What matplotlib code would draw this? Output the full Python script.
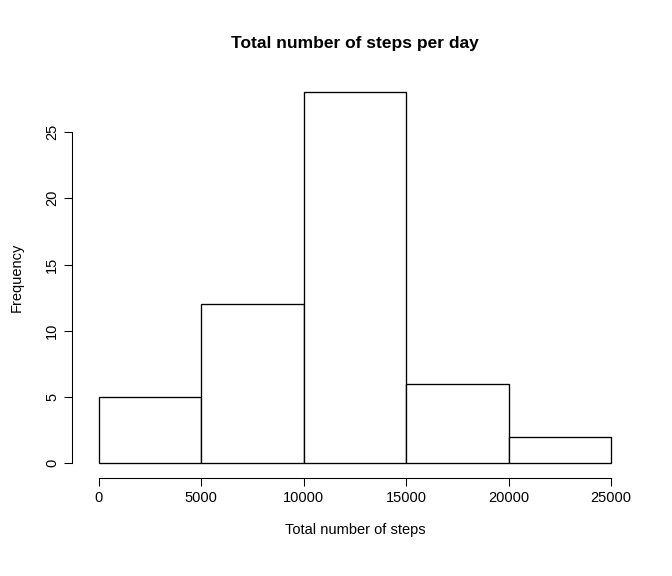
import matplotlib
matplotlib.use('Agg')
import matplotlib.pyplot as plt

edges = [0, 5000, 10000, 15000, 20000, 25000]
counts = [5, 12, 28, 6, 2]
xticks = [0, 5000, 10000, 15000, 20000, 25000]
yticks = [0, 5, 10, 15, 20, 25]

plt.rcParams['font.family'] = ['Liberation Sans', 'DejaVu Sans']
fig = plt.figure(figsize=(7, 6), dpi=96)
ax = fig.add_axes([78.5/672, 98/576, 553/672, 400.5/576])

ax.bar(edges[:-1], counts, width=5000, align='edge', facecolor='white', edgecolor='black', linewidth=1)
ax.set_xlim(-1000, 26000)
ax.set_ylim(-1.12, 29.12)

for s in ['top', 'right']:
    ax.spines[s].set_visible(False)
ax.spines['left'].set_bounds(0, 25)
ax.spines['bottom'].set_bounds(0, 25000)
ax.spines['left'].set_position(('outward', 5))
ax.spines['bottom'].set_position(('outward', 0))

ax.set_xticks(xticks)
ax.set_yticks(yticks)
ax.set_yticklabels([str(v) for v in yticks], rotation=90, va='center')
ax.tick_params(direction='out', length=6, labelsize=11)

ax.set_title('Total number of steps per day', fontsize=13, fontweight='bold', pad=22)
ax.set_xlabel('Total number of steps', fontsize=11, labelpad=14)
ax.set_ylabel('Frequency', fontsize=11, labelpad=16)

fig.savefig('out.png')
